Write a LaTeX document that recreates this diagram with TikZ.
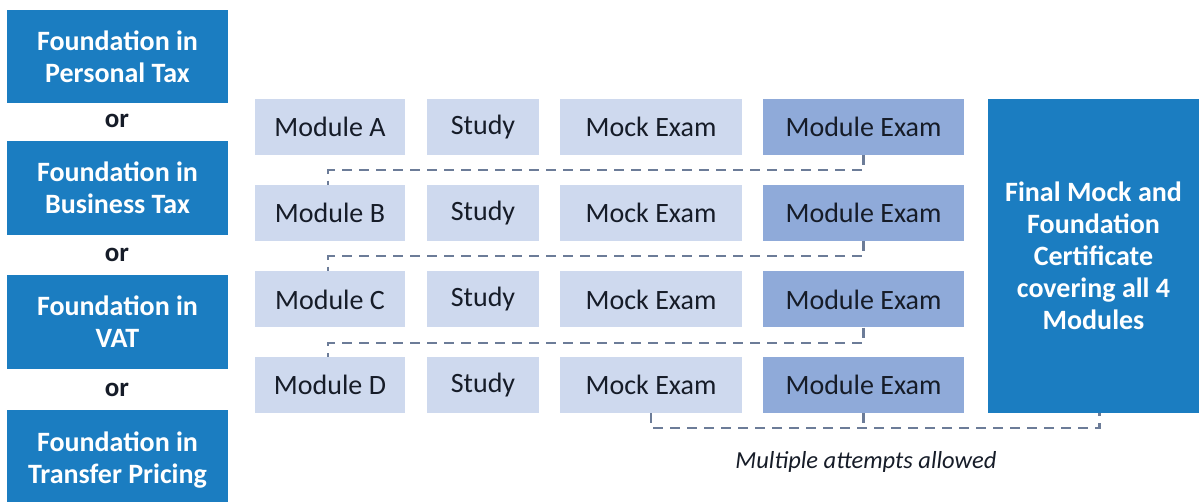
\documentclass[tikz,border=0pt]{standalone}
\usepackage{fontspec}
\setmainfont{Carlito}
\usepackage{tikz}

\definecolor{fblue}{RGB}{27,125,193}
\definecolor{lightmod}{RGB}{206,217,238}
\definecolor{midmod}{RGB}{143,170,217}
\definecolor{dashgray}{RGB}{108,124,152}
\definecolor{inkdark}{RGB}{22,28,40}

\begin{document}
\begin{tikzpicture}[x=1pt, y=-1pt,
	bluebox/.style={fill=fblue, text=white, inner sep=0pt, align=center,
		font=\fontsize{28}{32}\selectfont\bfseries},
	orlabel/.style={text=inkdark, font=\fontsize{27}{32}\selectfont\bfseries},
	modbox/.style={fill=lightmod, text=inkdark, inner sep=0pt, minimum height=56pt,
		font=\fontsize{28}{32}\selectfont},
	exambox/.style={modbox, fill=midmod},
	retry/.style={draw=dashgray, line width=2.2pt, dash pattern=on 10pt off 7pt}]
				\useasboundingbox (0,0) rectangle (1199,502);
				% left column
				\node[bluebox, minimum width=221pt, minimum height=93pt] (fpt) at (117.5,56.5) {Foundation in\\Personal Tax};
				\node[orlabel] (or1) at (117,121) {or};
				\node[bluebox, minimum width=221pt, minimum height=94pt] (fbt) at (117.5,188) {Foundation in\\Business Tax};
				\node[orlabel] (or2) at (117,255) {or};
				\node[bluebox, minimum width=221pt, minimum height=94pt] (fvat) at (117.5,322) {Foundation in\\VAT};
				\node[orlabel] (or3) at (117,390) {or};
				\node[bluebox, minimum width=221pt, minimum height=100pt] (ftp) at (117.5,460) {Foundation in\\Transfer Pricing};
				% modules
				\node[modbox, minimum width=150pt] (modA) at (330,127) {Module A};
				\node[modbox, minimum width=112pt] (studyA) at (483,127) {Study};
				\node[modbox, minimum width=182pt] (mockA) at (651,127) {Mock Exam};
				\node[exambox, minimum width=201pt] (examA) at (863.5,127) {Module Exam};
				\node[modbox, minimum width=150pt] (modB) at (330,213) {Module B};
				\node[modbox, minimum width=112pt] (studyB) at (483,213) {Study};
				\node[modbox, minimum width=182pt] (mockB) at (651,213) {Mock Exam};
				\node[exambox, minimum width=201pt] (examB) at (863.5,213) {Module Exam};
				\node[modbox, minimum width=150pt] (modC) at (330,299.5) {Module C};
				\node[modbox, minimum width=112pt] (studyC) at (483,299.5) {Study};
				\node[modbox, minimum width=182pt] (mockC) at (651,299.5) {Mock Exam};
				\node[exambox, minimum width=201pt] (examC) at (863.5,299.5) {Module Exam};
				\node[modbox, minimum width=150pt] (modD) at (330,385) {Module D};
				\node[modbox, minimum width=112pt] (studyD) at (483,385) {Study};
				\node[modbox, minimum width=182pt] (mockD) at (651,385) {Mock Exam};
				\node[exambox, minimum width=201pt] (examD) at (863.5,385) {Module Exam};
				% final certificate
				\node[bluebox, minimum width=211pt, minimum height=314pt] (final) at (1093.5,256) {Final Mock and\\Foundation\\Certificate\\covering all 4\\Modules};
				% dashed links
				\draw[retry] (examA.south) -- ++(0,15) -| ([xshift=-2pt]modB.north);
				\draw[retry] (examB.south) -- ++(0,15) -| ([xshift=-2pt]modC.north);
				\draw[retry] (examC.south) -- ++(0,15) -| ([xshift=-2pt]modD.north);
				\draw[retry] (mockD.south) -- ++(0,15) -| ([xshift=6pt]final.south);
				\draw[retry] (examD.south) -- ++(0,15);
				\node[text=inkdark, font=\fontsize{24.5}{28}\selectfont\itshape] (attempts) at (866,462) {Multiple attempts allowed};
			\end{tikzpicture}
\end{document}
